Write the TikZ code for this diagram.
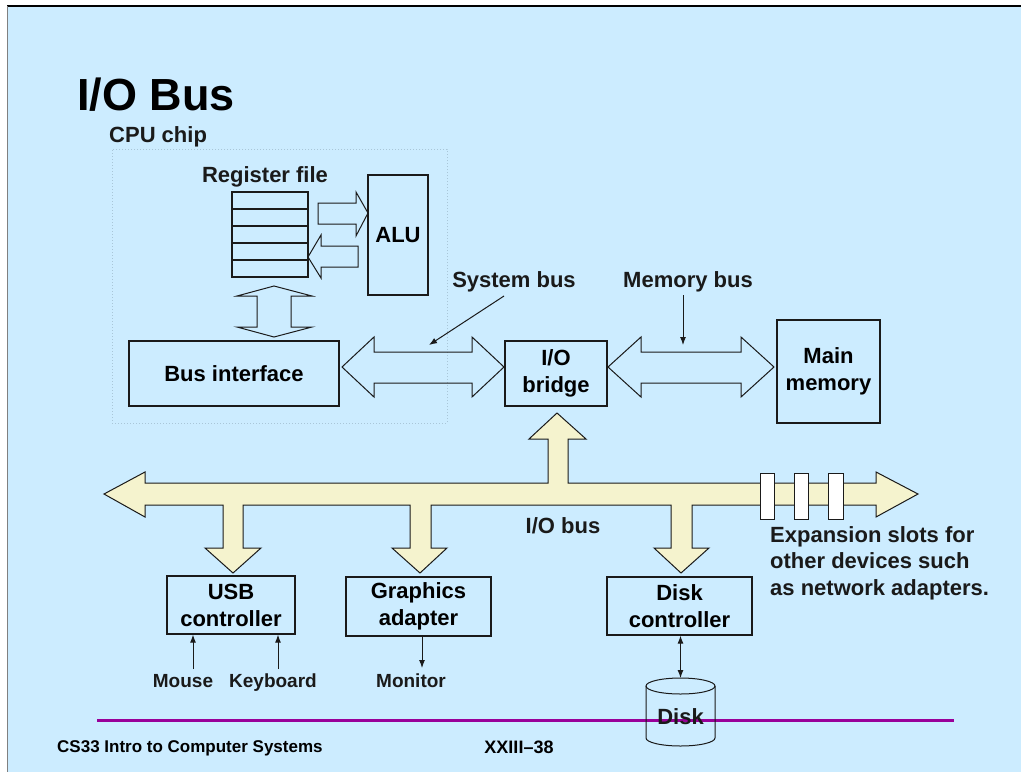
\documentclass[tikz,border=0pt]{standalone}
\usepackage{fontspec}
\setmainfont{Liberation Sans}
\usetikzlibrary{arrows.meta,calc}
\definecolor{slidebg}{HTML}{CCECFF}
\definecolor{buscream}{HTML}{F5F3CE}
\definecolor{footpurple}{HTML}{990099}
\definecolor{chipline}{HTML}{A9C6D8}
\definecolor{ink}{HTML}{1A1A1A}
\begin{document}
\begin{tikzpicture}[x=1pt,y=-1pt,
  lbl/.style={font=\fontsize{22}{26}\selectfont\bfseries, inner sep=0pt, text=ink},
  smalllbl/.style={font=\fontsize{19}{22}\selectfont\bfseries, inner sep=0pt, text=ink},
  box/.style={draw=ink, line width=1.3pt, inner sep=0pt, align=center,
    font=\fontsize{22}{27}\selectfont\bfseries},
  fat/.style={draw=ink, line width=1pt, line join=miter},
  ptr/.style={draw=ink, line width=1pt, -{Latex[length=8pt,width=6pt]}},
  dptr/.style={draw=ink, line width=1pt, {Latex[length=8pt,width=6pt]}-{Latex[length=8pt,width=6pt]}},
  slot/.style={draw=ink, fill=white, line width=1pt}]
\useasboundingbox (0,0) rectangle (1021,772);
% slide background
\fill[white] (0,0) rectangle (1021,772);
\fill[slidebg] (7,6) rectangle (1021,772);
\draw[black, line width=2pt] (7,6) -- (1021,6);
\draw[gray, line width=1pt] (7,6) -- (7,772);

% title
\node[anchor=base west, inner sep=0pt, font=\fontsize{45}{50}\selectfont\bfseries] (title) at (77,110) {I/O Bus};
\node[lbl, anchor=base west] (cpulbl) at (109,142) {CPU chip};

% CPU chip region
\node[draw=chipline, dotted, line width=1pt, minimum width=335, minimum height=274, inner sep=0pt] (chip) at (279.5,286) {};

% register file
\node[draw=ink, line width=1.3pt, minimum width=76, minimum height=85, inner sep=0pt] (regfile) at (270,234.5) {};
\foreach \yy in {209,226,243,260} \draw[ink, line width=1.3pt] (232,\yy) -- (308,\yy);
\node[lbl, anchor=base] (reglbl) at (265,182) {Register file};

\node[box, minimum width=60, minimum height=120] (alu) at (398,235) {ALU};
\node[box, minimum width=210, minimum height=65] (busif) at (234,373.5) {Bus interface};
\node[box, minimum width=102, minimum height=65] (bridge) at (556,373.5) {I/O\\bridge};
\node[box, minimum width=103, minimum height=103] (mem) at (828.5,371.5) {Main\\memory};
\node[box, minimum width=128, minimum height=58] (usb) at (231,605) {USB\\controller};
\node[box, minimum width=145, minimum height=59] (gfx) at (418.5,606.5) {Graphics\\adapter};
\node[box, minimum width=145, minimum height=58] (diskc) at (679.5,606) {Disk\\controller};

% register file <-> ALU block arrows
\draw[fat] (318,203) -- (356,203) -- (356,192) -- (368,213) -- (356,236) -- (356,224) -- (318,224) -- cycle;
\draw[fat] (308,257) -- (321,235) -- (321,246) -- (358,246) -- (358,267) -- (321,267) -- (321,278) -- cycle;
% register file <-> bus interface
\draw[fat] (274,286) -- (312,296) -- (291,296) -- (291,327) -- (312,327) -- (274,337) -- (237,327) -- (257,327) -- (257,296) -- (237,296) -- cycle;

% system bus
\draw[fat] (342,367) -- (374,337) -- (374,352) -- (472,352) -- (472,337) -- (504,367) -- (472,397) -- (472,383) -- (374,383) -- (374,397) -- cycle;
% memory bus
\draw[fat] (608,367) -- (641,337) -- (641,352) -- (741,352) -- (741,337) -- (774,367) -- (741,397) -- (741,383) -- (641,383) -- (641,397) -- cycle;

\node[lbl, anchor=base] (sysbus) at (514,287) {System bus};
\node[lbl, anchor=base] (membus) at (688,287) {Memory bus};
\coordinate (sbfrom) at (504,296);
\coordinate (sbto) at (429,345);
\coordinate (mbfrom) at (683,295);
\coordinate (mbto) at (683,345);
\draw[ptr] (sbfrom) -- (sbto);
\draw[ptr] (mbfrom) -- (mbto);

% I/O bus
\draw[fat, fill=buscream]
  (104,494) -- (145,472) -- (145,483) -- (548,483) -- (548,439) -- (529,439) -- (557,413)
  -- (586,439) -- (568,439) -- (568,483) -- (876,483) -- (876,472) -- (918,494)
  -- (876,517) -- (876,505) -- (692,505) -- (692,548) -- (709,548) -- (681,573)
  -- (654,548) -- (671,548) -- (671,505) -- (431,505) -- (431,548) -- (447,548)
  -- (420,573) -- (392,548) -- (410,548) -- (410,505) -- (243,505) -- (243,548)
  -- (261,548) -- (233,573) -- (205,548) -- (223,548) -- (223,505) -- (145,505)
  -- (145,517) -- cycle;
\draw[slot] (760,473) rectangle (774,519);
\draw[slot] (794,473) rectangle (808,519);
\draw[slot] (828,473) rectangle (843,519);
\node[lbl, anchor=base] (iobus) at (563,533) {I/O bus};
\node[lbl, anchor=north west, align=left, font=\fontsize{22}{26.5}\selectfont\bfseries] (expn) at (770,526)
  {Expansion slots for\\other devices such\\as network adapters.};

% peripherals
\node[smalllbl, anchor=base] (mouse) at (183,687) {Mouse};
\node[smalllbl, anchor=base] (kbd) at (273,687) {Keyboard};
\node[smalllbl, anchor=base] (monitor) at (411,687) {Monitor};
\coordinate (mousept) at (193,669);
\coordinate (kbdpt) at (278,669);
\coordinate (monpt) at (422,668);
\draw[ptr] (mousept) -- (mousept |- usb.south);
\draw[ptr] (kbdpt) -- (kbdpt |- usb.south);
\draw[ptr] (monpt |- gfx.south) -- (monpt);

% footer line
\draw[footpurple, line width=3pt] (97,720) -- (954,720);

% disk
\draw[ink, line width=1pt] (646,686) -- (646,738) arc[start angle=180, end angle=360, x radius=34.5pt, y radius=8pt] -- (715,686);
\draw[ink, line width=1pt] (680.5,686) ellipse[x radius=34.5pt, y radius=8pt];
\node[lbl, anchor=base] (disk) at (680.5,724) {Disk};
\coordinate (disktop) at (680.5,678);
\draw[dptr] (diskc.south -| disktop) -- (disktop);

% footer text
\node[anchor=base west, inner sep=0pt, font=\fontsize{17}{20}\selectfont\bfseries] (course) at (57,752) {CS33 Intro to Computer Systems};
\node[anchor=base, inner sep=0pt, font=\fontsize{18}{20}\selectfont\bfseries] (page) at (519,753) {XXIII–38};
\end{tikzpicture}
\end{document}
